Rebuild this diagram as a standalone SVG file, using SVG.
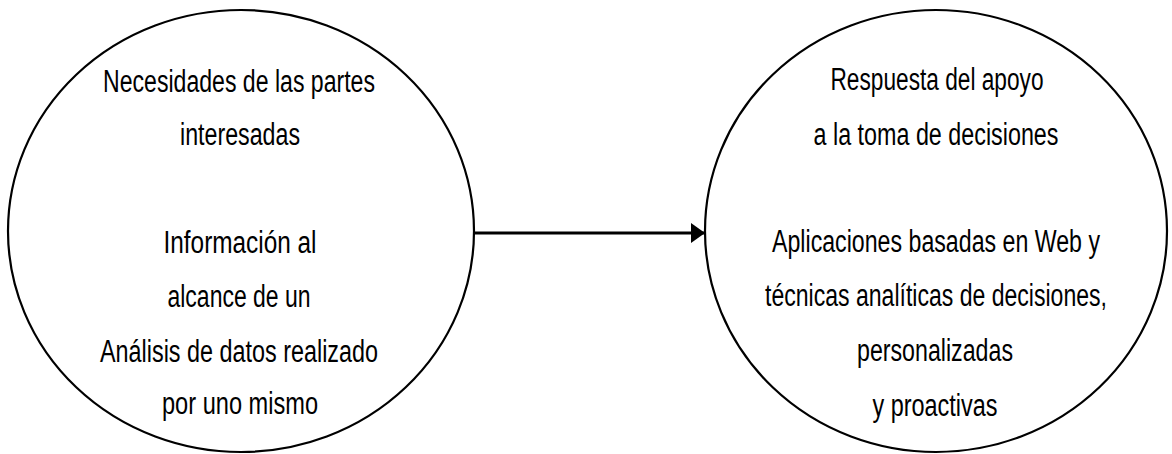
<svg xmlns="http://www.w3.org/2000/svg" width="1172" height="454" viewBox="0 0 1172 454">
<style>
.node{fill:#fff;stroke:#000;stroke-width:2.2}
.t{font-family:"Liberation Sans",Arial,sans-serif;font-size:31px;fill:#000;text-anchor:middle}
.conn{stroke:#000;stroke-width:3;fill:none}
</style>
<defs>
<marker id="ah" markerWidth="14" markerHeight="20" refX="14" refY="10" orient="auto" markerUnits="userSpaceOnUse">
<path d="M0,0 L14,10 L0,20 Z" fill="#000"/>
</marker>
</defs>
<rect width="1172" height="454" fill="#fff"/>
<g id="connectors">
<line class="conn" x1="475" y1="233" x2="705" y2="233" marker-end="url(#ah)"/>
</g>
<g id="node-left">
<ellipse class="node" cx="241" cy="231" rx="233" ry="221"/>
<text class="t" x="239" y="92" textLength="272" lengthAdjust="spacingAndGlyphs">Necesidades de las partes</text>
<text class="t" x="240" y="145" textLength="120" lengthAdjust="spacingAndGlyphs">interesadas</text>
<text class="t" x="240" y="253" textLength="153" lengthAdjust="spacingAndGlyphs">Información al</text>
<text class="t" x="239" y="307" textLength="143" lengthAdjust="spacingAndGlyphs">alcance de un</text>
<text class="t" x="239" y="362" textLength="278" lengthAdjust="spacingAndGlyphs">Análisis de datos realizado</text>
<text class="t" x="240" y="414" textLength="156" lengthAdjust="spacingAndGlyphs">por uno mismo</text>
</g>
<g id="node-right">
<ellipse class="node" cx="936" cy="231" rx="231" ry="221"/>
<text class="t" x="937" y="90" textLength="213" lengthAdjust="spacingAndGlyphs">Respuesta del apoyo</text>
<text class="t" x="936" y="145" textLength="245" lengthAdjust="spacingAndGlyphs">a la toma de decisiones</text>
<text class="t" x="936" y="252" textLength="328" lengthAdjust="spacingAndGlyphs">Aplicaciones basadas en Web y</text>
<text class="t" x="936" y="306" textLength="342" lengthAdjust="spacingAndGlyphs">técnicas analíticas de decisiones,</text>
<text class="t" x="935" y="361" textLength="156" lengthAdjust="spacingAndGlyphs">personalizadas</text>
<text class="t" x="935" y="416" textLength="125" lengthAdjust="spacingAndGlyphs">y proactivas</text>
</g>
</svg>
